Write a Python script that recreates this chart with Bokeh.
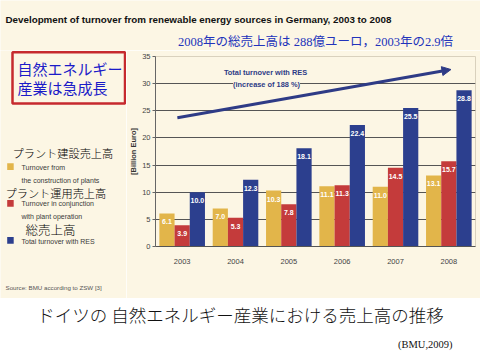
from bokeh.plotting import figure
from bokeh.models import (FactorRange, Range1d, Label, BoxAnnotation, Arrow,
                          NormalHead, ColumnDataSource, FixedTicker)
from bokeh.transform import dodge
from bokeh.layouts import column, row
from bokeh.embed import file_html
from bokeh.resources import INLINE
from bokeh.core.properties import value

# ---------------- data ----------------
years = ["2003", "2004", "2005", "2006", "2007", "2008"]
construction = [6.1, 7.0, 10.3, 11.1, 11.0, 13.1]
operation = [3.9, 5.3, 7.8, 11.3, 14.5, 15.7]
total = [10.0, 12.3, 18.1, 22.4, 25.5, 28.8]
y_ticks = [0, 5, 10, 15, 20, 25, 30, 35]
colors = ["#E2B54A", "#C43B3B", "#2C3F8E"]

# ---------------- style ----------------
BG = "#FCF6E4"
ARROW = "#2E3B86"
SANS = "'Liberation Sans', Arial, sans-serif"
JP = "'Noto Sans CJK JP', sans-serif"
JP_LIGHT = "'Noto Sans CJK JP Light', 'Noto Sans CJK JP DemiLight', 'Noto Sans CJK JP', sans-serif"
SERIF_JP = "'Liberation Serif', 'Noto Sans CJK JP', serif"

W = 480
TOP_H = 50          # title band
MID_H = 248         # chart band
BOT_H = 62          # caption band
LEFT_W = 126        # left text column
FL, FR, FT, FB = 150, 475, 56, 246   # chart frame edges (page px)


def aux(x0, y0, w, h, bg):
    f = figure(width=w, height=h, x_range=Range1d(x0, x0 + w), y_range=Range1d(-(y0 + h), -y0),
               output_backend="svg", toolbar_location=None,
               x_axis_location=None, y_axis_location=None,
               min_border=0, background_fill_color=bg, border_fill_color=bg)
    for g in f.grid:
        g.visible = False
    f.outline_line_color = None
    f.frame_align = False
    return f


def lab(fig, text, X, Y, size, color, font, style="normal", align="left", bg=None):
    fig.add_layout(Label(x=X, y=-Y, text=text, text_font_size=f"{size}px",
                         text_color=color, text_font=font, text_font_style=style,
                         text_align=align, text_baseline="middle",
                         background_fill_color=bg))


# ---------------- title band ----------------
T = aux(0, 0, W, TOP_H, BG)
lab(T, "Development of turnover from renewable energy sources in Germany, 2003 to 2008",
    5, 19, 9.8, "#111111", SANS, "bold")
lab(T, "2008年の総売上高は 288億ユーロ，2003年の2.9倍", 315, 41.5, 12.5, "#2233BB", SERIF_JP,
    "normal", "center")

# ---------------- left text column ----------------
L = aux(0, TOP_H, LEFT_W, MID_H, BG)
L.add_layout(BoxAnnotation(left=12, right=LEFT_W - 1.5, top=-51.7, bottom=-103,
                           fill_color=BG, fill_alpha=1.0,
                           line_color="#C62A2E", line_width=2.5, line_alpha=1.0))
lab(L, "自然エネルギー", 17, 68, 15, "#1B1BC8", JP)
lab(L, "産業は急成長", 17, 86.5, 15, "#1B1BC8", JP)

for top_y, col in [(162.7, colors[0]), (199.5, colors[1]), (236.5, colors[2])]:
    L.add_layout(BoxAnnotation(left=6.7, right=13.2, top=-top_y, bottom=-(top_y + 6.8),
                               fill_color=col, fill_alpha=1.0, line_color=None))
LEG = "#3A3A3A"
lab(L, "Turnover from", 21, 166.5, 7, LEG, SANS)
lab(L, "the construction of plants", 21, 180, 7, LEG, SANS)
lab(L, "Turnover in conjunction", 21, 203, 7, LEG, SANS)
lab(L, "with plant operation", 21, 215.5, 7, LEG, SANS)
lab(L, "Total turnover with RES", 21, 240.5, 7, LEG, SANS)
lab(L, "プラント建設売上高", 12, 152, 11.2, "#000000", JP_LIGHT)
lab(L, "プラント運用売上高", 5, 192, 11.2, "#000000", JP_LIGHT)
lab(L, "総売上高", 25, 229, 12.5, "#000000", JP_LIGHT)
lab(L, "Source: BMU according to ZSW [3]", 5, 286.5, 6.2, "#555555", SANS)

# ---------------- chart ----------------
p = figure(width=W - LEFT_W, height=MID_H, x_range=FactorRange(*years), y_range=Range1d(0, 35),
           output_backend="svg", toolbar_location=None,
           min_border_left=FL - LEFT_W, min_border_right=W - FR, min_border_top=FT - TOP_H,
           min_border_bottom=TOP_H + MID_H - FB,
           background_fill_color=BG, border_fill_color=BG)
p.frame_align = False
p.outline_line_color = "#D9D1BD"

p.yaxis.ticker = FixedTicker(ticks=y_ticks)
p.yaxis.axis_label = "[Billion Euro]"
p.yaxis.axis_label_text_font = SANS
p.yaxis.axis_label_text_font_style = "bold"
p.yaxis.axis_label_text_font_size = "7.5px"
p.yaxis.axis_label_text_color = "#333333"
p.yaxis.axis_label_standoff = 1
p.yaxis.major_label_text_font = SANS
p.yaxis.major_label_text_font_size = "7.5px"
p.yaxis.major_label_text_color = "#444444"
p.yaxis.major_label_standoff = 2
p.yaxis.major_tick_out = 3
p.yaxis.major_tick_in = 0
p.yaxis.minor_tick_line_color = None
p.yaxis.axis_line_color = "#666666"
p.yaxis.major_tick_line_color = "#666666"

p.xaxis.major_label_text_font = SANS
p.xaxis.major_label_text_font_size = "7.5px"
p.xaxis.major_label_text_color = "#444444"
p.xaxis.major_tick_line_color = None
p.xaxis.major_label_standoff = 6
p.xaxis.axis_line_color = "#555555"

p.xgrid.grid_line_color = None
p.ygrid.ticker = FixedTicker(ticks=y_ticks)
p.ygrid.grid_line_color = "#555555"
p.ygrid.grid_line_width = 1.2

src = ColumnDataSource(dict(
    years=years,
    construction=construction, operation=operation, total=total,
    c_txt=[f"{v:.1f}" for v in construction],
    o_txt=[f"{v:.1f}" for v in operation],
    t_txt=[f"{v:.1f}" for v in total],
    c_y=[v - 1.55 for v in construction],
    o_y=[v - 1.55 for v in operation],
    t_y=[v - 1.55 for v in total],
))

BW = 0.285
for key, off, col, lab_key, ly_key in [
        ("construction", -BW, colors[0], "c_txt", "c_y"),
        ("operation", 0.0, colors[1], "o_txt", "o_y"),
        ("total", BW, colors[2], "t_txt", "t_y")]:
    p.vbar(x=dodge("years", off, range=p.x_range), top=key, width=BW, source=src,
           fill_color=col, line_color=None)
    p.text(x=dodge("years", off, range=p.x_range), y=ly_key, text=lab_key, source=src,
           text_color="white", text_font=value(SANS), text_font_style="bold",
           text_font_size="7px", text_align="center", text_baseline="middle")

p.add_layout(Arrow(x_start=0.41, y_start=23.7, x_end=5.54, y_end=32.6,
                   line_color=ARROW, line_width=3,
                   end=NormalHead(size=9, fill_color=ARROW, line_color=ARROW)))


def plab(text, X, Y, size):
    p.add_layout(Label(x=X - FL, y=FB - Y, x_units="screen", y_units="screen",
                       text=text, text_font_size=f"{size}px", text_color=ARROW,
                       text_font=SANS, text_font_style="bold", text_align="center",
                       text_baseline="middle", background_fill_color=BG))


plab("Total turnover with RES", 260, 72, 7.4)
plab("(increase of 188 %)", 261, 84, 7.4)

# ---------------- caption band ----------------
B = aux(0, TOP_H + MID_H, W, BOT_H, "white")
lab(B, "ドイツの 自然エネルギー産業における売上高の推移", 240, 314, 17.5, "#111111", JP_LIGHT,
    "normal", "center")
lab(B, "(BMU,2009)", 452, 343.5, 10.5, "#111111", "'Liberation Serif', serif", "normal", "right")

layout = column(T, row(L, p, spacing=0), B, spacing=0)
open("out.html", "w").write(file_html(layout, INLINE))
